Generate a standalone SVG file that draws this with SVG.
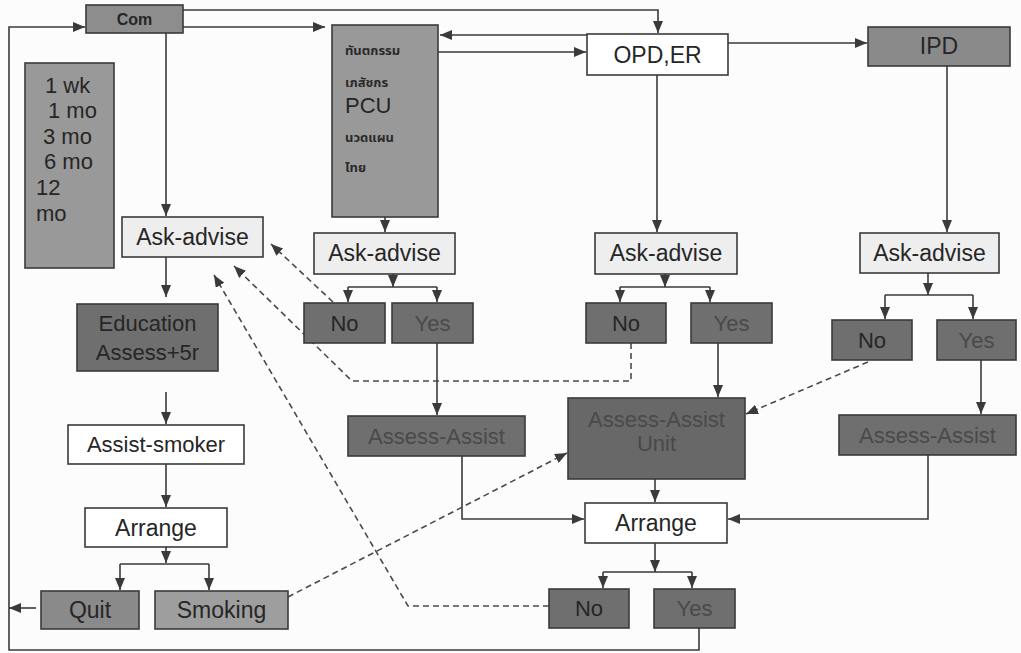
<svg xmlns="http://www.w3.org/2000/svg" width="1021" height="653" viewBox="0 0 1021 653">
<defs>
<marker id="ah" viewBox="0 0 12 10" markerWidth="12" markerHeight="10" refX="12" refY="5" orient="auto" markerUnits="userSpaceOnUse">
<path d="M0,0 L12,5 L0,10 z" fill="#3a3a3a"/>
</marker>
<style>
.box{stroke:#3a3a3a;stroke-width:1.6}
.white{fill:#ffffff}
.light{fill:#eeeeee}
.mid{fill:#999999}
.dark{fill:#6f6f6f}
.t{font-family:"Liberation Sans",Arial,sans-serif;font-size:22px;fill:#262626;text-anchor:middle}
.ty{fill:#4a4a4a}
.th{font-family:"Noto Sans Thai","Noto Sans","DejaVu Sans",sans-serif;font-size:13px;font-weight:bold;fill:#2a2a2a}
.c{fill:none;stroke:#3a3a3a;stroke-width:1.6}
.a{marker-end:url(#ah)}
.d{fill:none;stroke:#4a4a4a;stroke-width:1.6;stroke-dasharray:6 4}
</style>
</defs>
<rect width="1021" height="653" fill="#fcfcfc"/>

<g id="connectors">
<path class="c a" d="M183,10 H658 V33"/>
<path class="c a" d="M183,27 H325"/>
<path class="c a" d="M587,35 H440"/>
<path class="c a" d="M438,52 H586"/>
<path class="c a" d="M728,43 H867"/>
<path class="c a" d="M166,33 V216"/>
<path class="c a" d="M385,217 V232"/>
<path class="c a" d="M657,75 V232"/>
<path class="c a" d="M947,66 V232"/>
<path class="c a" d="M166,257 V297"/>
<path class="c a" d="M166,392 V424"/>
<path class="c a" d="M166,464 V507"/>
<path class="c a" d="M166,547 V563"/>
<path class="c" d="M120,564 H209"/>
<path class="c a" d="M120,564 V590"/>
<path class="c a" d="M209,564 V590"/>
<path class="c a" d="M36,608 H9"/>
<path class="c a" d="M699,628 V650 H9 V27 H85"/>
<path class="c a" d="M393,274 V287"/>
<path class="c" d="M348,287 H437"/>
<path class="c a" d="M348,287 V302"/>
<path class="c a" d="M437,287 V302"/>
<path class="c a" d="M437,343 V415"/>
<path class="c a" d="M462,456 V519 H584"/>
<path class="c a" d="M665,274 V287"/>
<path class="c" d="M620,287 H710"/>
<path class="c a" d="M620,287 V302"/>
<path class="c a" d="M710,287 V302"/>
<path class="c a" d="M718,343 V397"/>
<path class="c a" d="M655,479 V502"/>
<path class="c a" d="M928,273 V295"/>
<path class="c" d="M885,295 H973"/>
<path class="c a" d="M885,295 V319"/>
<path class="c a" d="M973,295 V319"/>
<path class="c a" d="M981,360 V414"/>
<path class="c a" d="M928,455 V519 H728"/>
<path class="c a" d="M655,543 V572"/>
<path class="c" d="M603,572 H692"/>
<path class="c a" d="M603,572 V588"/>
<path class="c a" d="M692,572 V588"/>
<path class="d a" d="M333,302 L271,244"/>
<path class="d a" d="M631,343 V381 H352 L234,266"/>
<path class="d a" d="M549,606 H408 L214,275"/>
<path class="d a" d="M288,597 L567,453"/>
<path class="d a" d="M868,362 L746,414"/>
</g>

<g id="com"><rect class="box" x="86" y="5" width="97" height="28" fill="#8d8d8d"/><text class="t" x="134.5" y="25" style="font-size:16px;font-weight:bold">Com</text></g>
<g id="timeline"><rect class="box mid" x="25" y="63" width="89" height="205"/>
<text class="t" style="text-anchor:start" x="45" y="93">1 wk</text>
<text class="t" style="text-anchor:start" x="48" y="118">1 mo</text>
<text class="t" style="text-anchor:start" x="43" y="144">3 mo</text>
<text class="t" style="text-anchor:start" x="44" y="169">6 mo</text>
<text class="t" style="text-anchor:start" x="36" y="195">12</text>
<text class="t" style="text-anchor:start" x="36" y="221">mo</text></g>
<g id="pcu"><rect class="box mid" x="332" y="25" width="106" height="192"/>
<text class="th" x="345" y="55">ทันตกรรม</text>
<text class="th" x="345" y="87">เภสัชกร</text>
<text class="t" style="text-anchor:start" x="345" y="113">PCU</text>
<text class="th" x="345" y="142">นวดแผน</text>
<text class="th" x="345" y="172">ไทย</text></g>
<g id="opd"><rect class="box white" x="587" y="34" width="141" height="41"/><text class="t" x="657.5" y="63" style="font-size:23px">OPD,ER</text></g>
<g id="ipd"><rect class="box" x="868" y="27" width="142" height="39" fill="#8a8a8a"/><text class="t" x="939" y="54" style="font-size:23px">IPD</text></g>

<g id="ask1"><rect class="box light" x="122" y="217" width="141" height="40"/><text class="t" x="192.5" y="245" style="font-size:23px">Ask-advise</text></g>
<g id="ask2"><rect class="box light" x="314" y="233" width="141" height="41"/><text class="t" x="384.5" y="261" style="font-size:23px">Ask-advise</text></g>
<g id="ask3"><rect class="box light" x="595" y="233" width="142" height="41"/><text class="t" x="666" y="261" style="font-size:23px">Ask-advise</text></g>
<g id="ask4"><rect class="box light" x="860" y="233" width="139" height="40"/><text class="t" x="929.5" y="261" style="font-size:23px">Ask-advise</text></g>

<g id="education"><rect class="box dark" x="77" y="304" width="141" height="67"/><text class="t" x="147.5" y="331">Education</text><text class="t" x="147.5" y="360">Assess+5r</text></g>
<g id="assist-smoker"><rect class="box white" x="68" y="425" width="176" height="39"/><text class="t" x="156" y="452">Assist-smoker</text></g>
<g id="arrange1"><rect class="box white" x="85" y="508" width="142" height="39"/><text class="t" x="156" y="536" style="font-size:23px">Arrange</text></g>
<g id="quit"><rect class="box" x="41" y="591" width="98" height="38" fill="#8a8a8a"/><text class="t" x="90" y="618" style="font-size:23px">Quit</text></g>
<g id="smoking"><rect class="box" x="155" y="591" width="133" height="38" fill="#9e9e9e"/><text class="t" x="221.5" y="618" style="font-size:23px">Smoking</text></g>

<g id="no1"><rect class="box dark" x="304" y="303" width="81" height="40"/><text class="t" x="344.5" y="331">No</text></g>
<g id="yes1"><rect class="box dark" x="392" y="303" width="81" height="40"/><text class="t ty" x="432.5" y="331">Yes</text></g>
<g id="no2"><rect class="box dark" x="586" y="303" width="80" height="40"/><text class="t" x="626" y="331">No</text></g>
<g id="yes2"><rect class="box dark" x="691" y="303" width="81" height="40"/><text class="t ty" x="731.5" y="331">Yes</text></g>
<g id="no3"><rect class="box dark" x="832" y="320" width="80" height="40"/><text class="t" x="872" y="348">No</text></g>
<g id="yes3"><rect class="box dark" x="937" y="320" width="79" height="40"/><text class="t ty" x="976.5" y="348">Yes</text></g>

<g id="assess-assist1"><rect class="box dark" x="348" y="416" width="177" height="40"/><text class="t ty" x="436.5" y="444">Assess-Assist</text></g>
<g id="assess-assist-unit"><rect class="box" x="568" y="398" width="177" height="81" fill="#686868"/><text class="t ty" x="656.5" y="427">Assess-Assist</text><text class="t ty" x="656.5" y="451">Unit</text></g>
<g id="assess-assist3"><rect class="box dark" x="839" y="415" width="177" height="40"/><text class="t ty" x="927.5" y="443">Assess-Assist</text></g>

<g id="arrange2"><rect class="box white" x="585" y="503" width="142" height="40"/><text class="t" x="656" y="531" style="font-size:23px">Arrange</text></g>
<g id="no4"><rect class="box dark" x="549" y="589" width="80" height="39"/><text class="t" x="589" y="616">No</text></g>
<g id="yes4"><rect class="box dark" x="654" y="589" width="81" height="39"/><text class="t ty" x="694.5" y="616">Yes</text></g>
</svg>
